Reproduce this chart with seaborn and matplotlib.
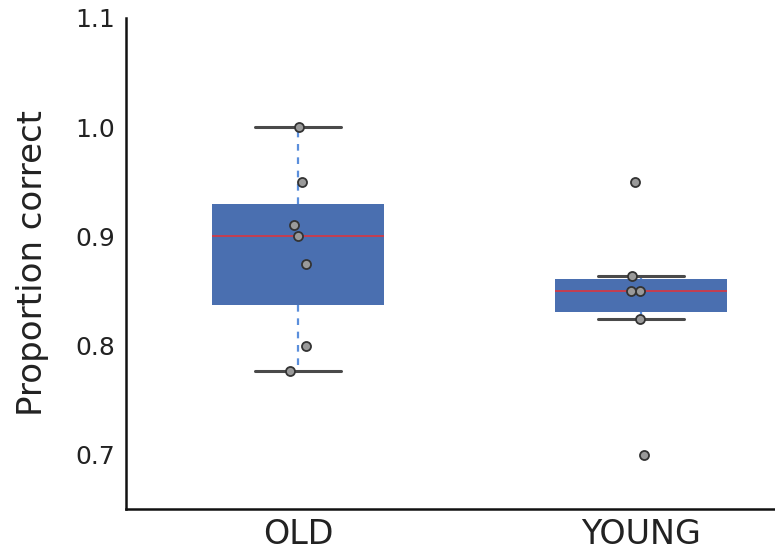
"""Box plot of proportion correct for the OLD and YOUNG groups."""

import matplotlib

matplotlib.use("Agg")
import matplotlib.pyplot as plt
import numpy as np
import pandas as pd
import seaborn as sns

# values
old_scores = [1.0, 0.95, 0.91, 0.90, 0.875, 0.80, 0.777]
young_scores = [0.95, 0.864, 0.85, 0.85, 0.824, 0.70]
groups = ["OLD", "YOUNG"]
y_ticks = [0.7, 0.8, 0.9, 1.0, 1.1]

df = pd.DataFrame(
    {
        "group": ["OLD"] * len(old_scores) + ["YOUNG"] * len(young_scores),
        "score": old_scores + young_scores,
    }
)

sns.set_style("white")
plt.rcParams["font.family"] = ["DejaVu Sans"]

fig = plt.figure(figsize=(7.75, 5.53), dpi=100)
ax = fig.add_axes([0.163, 0.08, 0.837, 0.8875])

sns.boxplot(
    data=df,
    x="group",
    y="score",
    order=groups,
    width=0.5,
    whis=1.5,
    color="#4a6fb0",
    saturation=1,
    showfliers=False,
    boxprops={"edgecolor": "#4a6fb0", "linewidth": 0},
    medianprops={"color": "#d9363e", "linewidth": 1.2},
    whiskerprops={"color": "#5b8fdc", "linewidth": 1.6, "linestyle": (0, (3, 3))},
    capprops={"color": "#4a4a4a", "linewidth": 2.2},
    ax=ax,
)

np.random.seed(3)
sns.stripplot(
    data=df,
    x="group",
    y="score",
    order=groups,
    jitter=0.03,
    size=6.5,
    color="#9a9a9a",
    edgecolor="#333333",
    linewidth=1.3,
    ax=ax,
    zorder=5,
)

ax.set_xlim(-0.5, 1.39)
ax.set_ylim(0.6505, 1.1)
ax.set_yticks(y_ticks)
ax.set_yticklabels([f"{t:.1f}" for t in y_ticks], fontsize=18, color="#222222")
ax.set_xticks(range(len(groups)))
ax.set_xticklabels(groups, fontsize=24, color="#222222")
ax.tick_params(axis="both", length=0)
ax.tick_params(axis="y", pad=8)
ax.tick_params(axis="x", pad=7)
ax.set_xlabel("")
ax.set_ylabel("Proportion correct", fontsize=24.5, color="#222222", labelpad=19)

for side in ["top", "right"]:
    ax.spines[side].set_visible(False)
for side in ["left", "bottom"]:
    ax.spines[side].set_color("#111111")
    ax.spines[side].set_linewidth(1.8)

fig.savefig("out.png", dpi=100)
plt.close(fig)
